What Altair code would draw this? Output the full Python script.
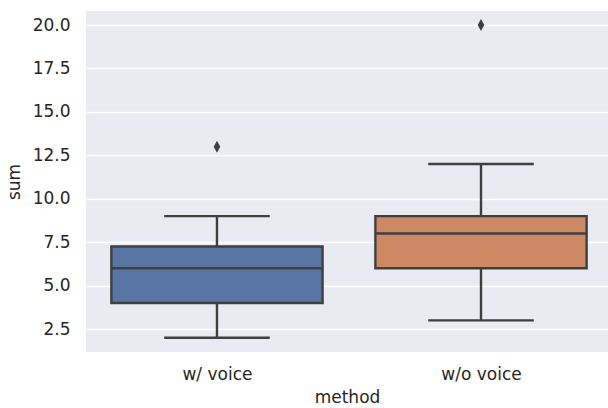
import altair as alt
import pandas as pd

methods = ["w/ voice", "w/o voice"]
whisker_low = [2, 3]
q1 = [4, 6]
median = [6, 8]
q3 = [7.25, 9]
whisker_high = [9, 12]
outliers_method = ["w/ voice", "w/o voice"]
outliers_value = [13, 20]
colors = ["#5875A4", "#CC8963"]

pos = {m: i for i, m in enumerate(methods)}
box = pd.DataFrame({
    "method": methods,
    "pos": [pos[m] for m in methods],
    "lo": whisker_low, "q1": q1, "med": median, "q3": q3, "hi": whisker_high,
})
box["bx1"] = box["pos"] - 0.4
box["bx2"] = box["pos"] + 0.4
box["cx1"] = box["pos"] - 0.2
box["cx2"] = box["pos"] + 0.2
out = pd.DataFrame({"method": outliers_method, "value": outliers_value})
out["pos"] = [pos[m] for m in outliers_method]

LINE = "#3F3F3F"
FONT = "DejaVu Sans"
FS = 17
SW = 2.4

xscale = alt.Scale(domain=[-0.496, 1.481], nice=False, zero=False)
yscale = alt.Scale(domain=[1.18, 20.81], nice=False, zero=False)

label_expr = "datum.value == 0 ? 'w/ voice' : (datum.value == 1 ? 'w/o voice' : '')"

xaxis = alt.Axis(title="method", values=[0, 1], labelExpr=label_expr, grid=False,
                 ticks=False, domain=False, labelPadding=14, titlePadding=7,
                 labelFontSize=FS, titleFontSize=FS, labelColor="#262626",
                 titleColor="#262626", labelFont=FONT, titleFont=FONT,
                 titleFontWeight="normal")
yaxis = alt.Axis(title="sum", values=[2.5, 5, 7.5, 10, 12.5, 15, 17.5, 20], format=".1f",
                 grid=True, gridColor="white", gridWidth=1.3, ticks=False, domain=False,
                 labelPadding=16, titlePadding=9, labelFontSize=FS, titleFontSize=FS,
                 labelColor="#262626", titleColor="#262626", labelFont=FONT,
                 titleFont=FONT, titleFontWeight="normal")

base = alt.Chart(box)

whisk_lo = base.mark_rule(color=LINE, strokeWidth=SW).encode(
    x=alt.X("pos:Q", scale=xscale, axis=xaxis),
    y=alt.Y("lo:Q", scale=yscale, axis=yaxis),
    y2="q1:Q")
whisk_hi = base.mark_rule(color=LINE, strokeWidth=SW).encode(
    x=alt.X("pos:Q", scale=xscale), y=alt.Y("q3:Q", scale=yscale), y2="hi:Q")
cap_lo = base.mark_rule(color=LINE, strokeWidth=SW).encode(
    x=alt.X("cx1:Q", scale=xscale), x2="cx2:Q", y=alt.Y("lo:Q", scale=yscale))
cap_hi = base.mark_rule(color=LINE, strokeWidth=SW).encode(
    x=alt.X("cx1:Q", scale=xscale), x2="cx2:Q", y=alt.Y("hi:Q", scale=yscale))
rect = base.mark_rect(stroke=LINE, strokeWidth=SW).encode(
    x=alt.X("bx1:Q", scale=xscale), x2="bx2:Q",
    y=alt.Y("q1:Q", scale=yscale), y2="q3:Q",
    fill=alt.Fill("method:N", scale=alt.Scale(domain=methods, range=colors), legend=None))
med = base.mark_rule(color=LINE, strokeWidth=SW).encode(
    x=alt.X("bx1:Q", scale=xscale), x2="bx2:Q", y=alt.Y("med:Q", scale=yscale))
pts = alt.Chart(out).mark_point(shape="M0,-1L0.55,0L0,1L-0.55,0Z", filled=True,
                                color=LINE, size=144, opacity=1, strokeWidth=0).encode(
    x=alt.X("pos:Q", scale=xscale), y=alt.Y("value:Q", scale=yscale))

chart = alt.layer(whisk_lo, whisk_hi, cap_lo, cap_hi, rect, med, pts).properties(
    width=522, height=341,
    autosize=alt.AutoSizeParams(type="none"),
    padding={"left": 86, "top": 11, "right": 0, "bottom": 56},
    background="white",
).configure_view(fill="#EAEAF2", stroke=None)

chart.save("out.html", embed_options={"renderer": "svg", "actions": False})
